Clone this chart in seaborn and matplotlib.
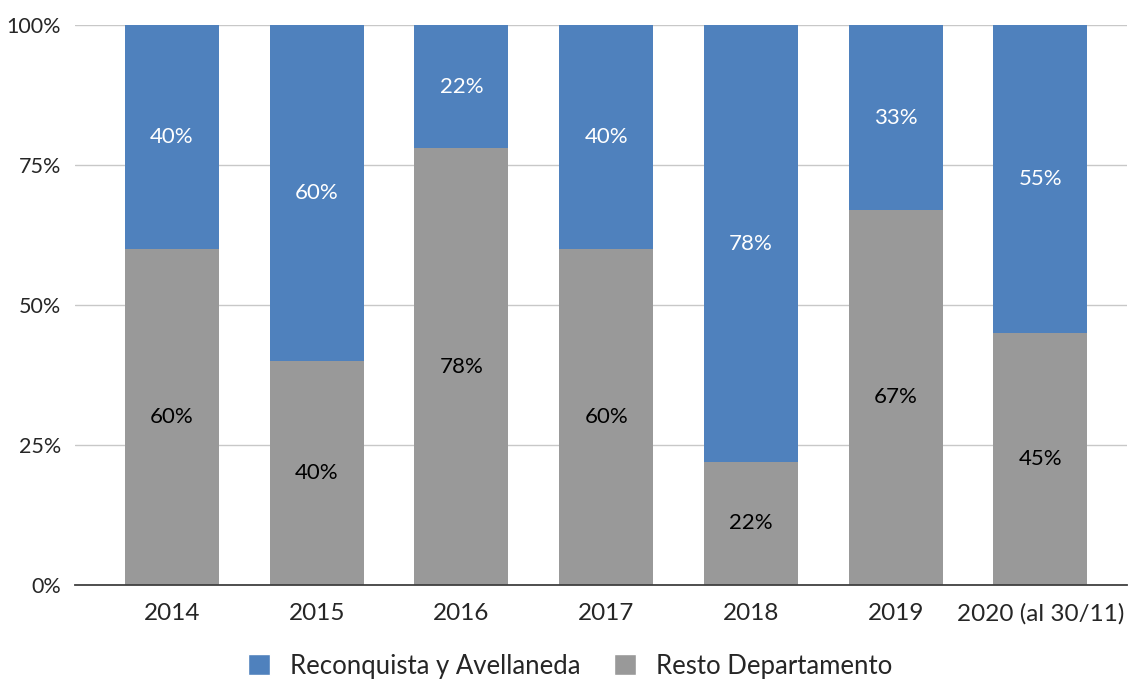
import matplotlib
matplotlib.use("Agg")
import matplotlib.pyplot as plt
import seaborn as sns
import pandas as pd
from matplotlib.patches import Patch

# data
years = ["2014", "2015", "2016", "2017", "2018", "2019", "2020 (al 30/11)"]
resto = [60, 40, 78, 60, 22, 67, 45]
reconquista = [40, 60, 22, 40, 78, 33, 55]
series_names = ["Reconquista y Avellaneda", "Resto Departamento"]

blue = "#4f81bd"
gray = "#999999"

df = pd.DataFrame({"year": years, "resto": resto, "reconquista": reconquista})
df["total"] = df["resto"] + df["reconquista"]

sns.set_style("white")
plt.rcParams["font.family"] = ["Lato", "DejaVu Sans"]

fig = plt.figure(figsize=(11.29, 6.81), dpi=100)
ax = fig.add_axes([0.0664, 0.141, 0.932, 0.822])

# stacked bars: total in blue, resto in gray over it
sns.barplot(data=df, x="year", y="total", color=blue, width=0.65, saturation=1,
            linewidth=0, ax=ax, zorder=2)
sns.barplot(data=df, x="year", y="resto", color=gray, width=0.65, saturation=1,
            linewidth=0, ax=ax, zorder=3)

for i, row in df.iterrows():
    ax.text(i, row["resto"] / 2, f"{row['resto']}%", ha="center", va="center",
            fontsize=16, color="black", zorder=4)
    ax.text(i, row["resto"] + row["reconquista"] / 2, f"{row['reconquista']}%",
            ha="center", va="center", fontsize=16, color="white", zorder=4)

ax.set_ylim(0, 100)
ax.set_xlim(-0.67, 6.6)
ax.set_yticks([0, 25, 50, 75, 100])
ax.set_yticklabels(["0%", "25%", "50%", "75%", "100%"], fontsize=15.5)
ax.tick_params(axis="x", labelsize=17.5, length=0, pad=13)
ax.tick_params(axis="y", length=0, pad=10)
ax.set_xlabel("")
ax.set_ylabel("")
ax.grid(axis="y", color="#c8c8c8", linewidth=1, zorder=0)
ax.set_axisbelow(True)
for s in ["top", "right", "left"]:
    ax.spines[s].set_visible(False)
ax.spines["bottom"].set_color("#404040")
ax.spines["bottom"].set_linewidth(1.3)
ax.spines["bottom"].set_zorder(5)

handles = [Patch(facecolor=blue, label=series_names[0]),
           Patch(facecolor=gray, label=series_names[1])]
fig.legend(handles=handles, loc="center", bbox_to_anchor=(0.505, 0.022), ncol=2,
           frameon=False, fontsize=18.5, handlelength=0.85, handleheight=0.85,
           columnspacing=1.3, handletextpad=0.8)

fig.savefig("out.png", dpi=100)
